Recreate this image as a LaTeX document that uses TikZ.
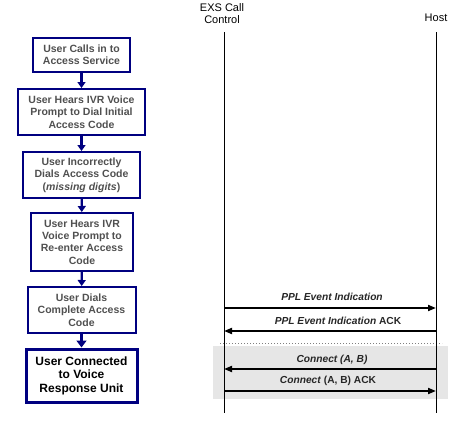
\documentclass[tikz,border=0pt]{standalone}
\usepackage{fontspec}
\setmainfont{Liberation Sans}
\usetikzlibrary{arrows.meta}
\definecolor{navy}{HTML}{000080}
\definecolor{boxtext}{HTML}{505050}
\definecolor{shadegray}{HTML}{E6E6E6}
\tikzset{
  flowbox/.style={draw=navy, line width=2pt, fill=white, align=center, inner sep=1pt,
    font=\fontsize{10.5}{12.3}\selectfont\bfseries, text=boxtext},
  finalbox/.style={draw=navy, line width=3pt, fill=white, align=center, inner sep=1pt,
    font=\fontsize{12}{13.5}\selectfont\bfseries, text=black},
  flow/.style={draw=navy, line width=2.2pt, -{Triangle[length=6pt,width=8pt]}},
  lifeline/.style={draw=black, line width=0.8pt},
  msg/.style={draw=black, line width=1.8pt, -{Triangle[length=8pt,width=6pt]}},
  msglabel/.style={font=\fontsize{10.2}{12}\selectfont\bfseries, text=black!85, inner sep=0pt},
  header/.style={font=\fontsize{11}{11.5}\selectfont, align=center, inner sep=0pt}
}
\begin{document}
\begin{tikzpicture}[x=1pt,y=-1pt]
\useasboundingbox (0,0) rectangle (469,437);
% shaded region
\fill[shadegray] (213,346) rectangle (448,399);
\draw[gray, line width=1pt, dotted] (220,343) -- (442,343);
% headers
\node[header] (hexs) at (222,13.5) {EXS Call\\Control};
\node[header] (hhost) at (436,18) {Host};
% lifelines
\coordinate (et) at (224,32);
\coordinate (eb) at (224,413);
\coordinate (ht) at (436,32);
\coordinate (hb) at (436,413);
\draw[lifeline] (et) -- (eb);
\draw[lifeline] (ht) -- (hb);
% flow boxes
\node[flowbox, minimum width=97, minimum height=34] (b1) at (81.5,55) {User Calls in to\\Access Service};
\node[flowbox, minimum width=127, minimum height=46] (b2) at (81.5,112) {User Hears IVR Voice\\Prompt to Dial Initial\\Access Code};
\node[flowbox, minimum width=117, minimum height=46] (b3) at (81.5,175) {User Incorrectly\\Dials Access Code\\(\textit{missing digits})};
\node[flowbox, minimum width=102, minimum height=58] (b4) at (82,242) {User Hears IVR\\Voice Prompt to\\Re-enter Access\\Code};
\node[flowbox, minimum width=108, minimum height=46] (b5) at (81.5,310) {User Dials\\Complete Access\\Code};
\node[finalbox, minimum width=111, minimum height=53] (b6) at (81.5,375.5) {User Connected\\to Voice\\Response Unit};
\draw[flow] (b1) -- (b2);
\draw[flow] (b2) -- (b3);
\draw[flow] (b3) -- (b4);
\draw[flow] (b4) -- (b5);
\draw[flow, line width=3pt, -{Triangle[length=7pt,width=10pt]}] (b5) -- (b6);
% messages
\coordinate (e1) at (224,308); \coordinate (h1) at (436,308);
\coordinate (e2) at (224,331); \coordinate (h2) at (436,331);
\coordinate (e3) at (224,369); \coordinate (h3) at (436,369);
\coordinate (e4) at (224,391); \coordinate (h4) at (436,391);
\draw[msg] (e1) -- (h1);
\draw[msg] (h2) -- (e2);
\draw[msg] (h3) -- (e3);
\draw[msg] (e4) -- (h4);
\node[msglabel] (l1) at (332,297) {\textit{PPL Event Indication}};
\node[msglabel] (l2) at (338,321) {\textit{PPL Event Indication} ACK};
\node[msglabel] (l3) at (332,360) {\textit{Connect (A, B)}};
\node[msglabel] (l4) at (328,381) {\textit{Connect} (A, B) ACK};
\end{tikzpicture}
\end{document}
